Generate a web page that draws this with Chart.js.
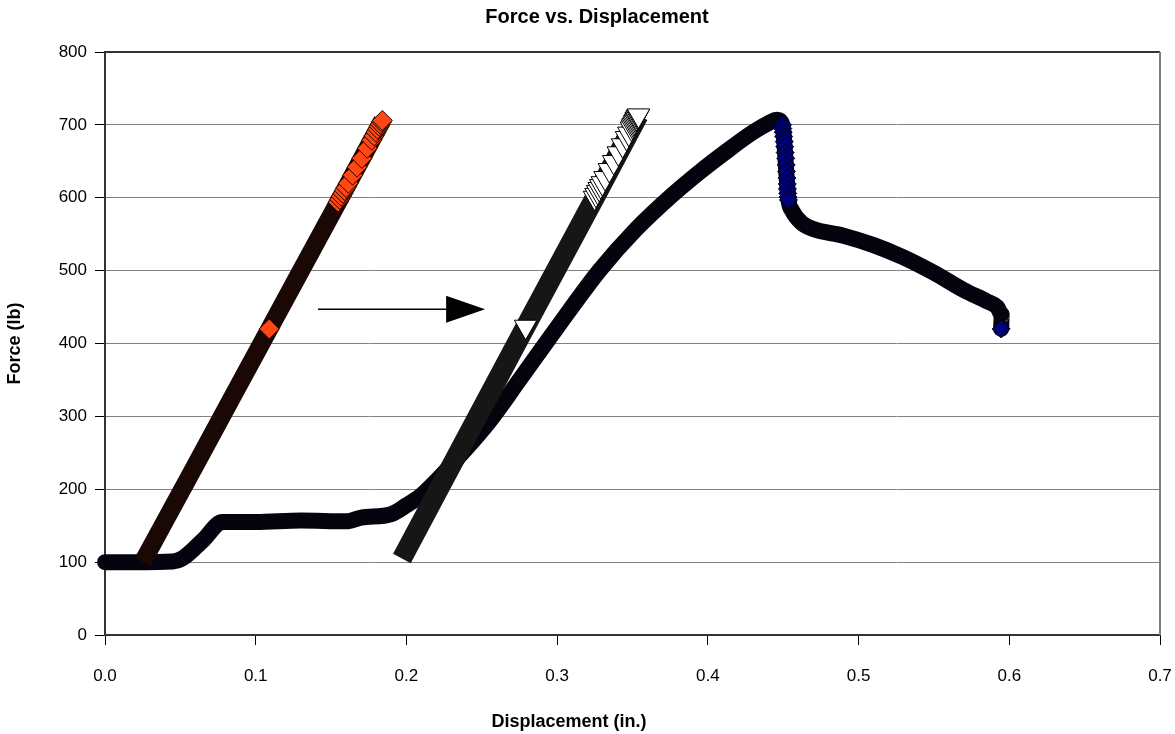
<!DOCTYPE html>
<html>
<head>
<meta charset="utf-8">
<title>Force vs. Displacement</title>
<script src="https://cdn.jsdelivr.net/npm/chart.js@4.4.1/dist/chart.umd.min.js"></script>
<style>
  html, body { margin: 0; padding: 0; background: #fff; }
  #wrap { width: 1175px; height: 734px; position: relative; }
</style>
</head>
<body>
<div id="wrap"><canvas id="forceChart"></canvas></div>
<script>
// main test (blue diamonds) - traced along the middle of the thick band
const testX = [0.000, 0.020, 0.045, 0.052, 0.065, 0.078, 0.100, 0.130, 0.160, 0.170, 0.190, 0.200, 0.210, 0.220, 0.235, 0.255, 0.275, 0.300, 0.328, 0.352, 0.376, 0.395, 0.410, 0.430, 0.440, 0.446, 0.4495, 0.4535, 0.456, 0.462, 0.470, 0.490, 0.510, 0.530, 0.550, 0.570, 0.585, 0.592, 0.595, 0.5946];
const testY = [100, 100, 101, 106, 130, 155, 155, 157, 156, 161, 166, 178, 192, 212, 245, 293, 350, 422, 500, 556, 603, 636, 660, 690, 702, 707, 700, 597, 582, 566, 557, 548, 535, 518, 497, 473, 458, 450, 440, 420];
// diamonds that show up on their own (steep drop + last reading)
const testMarkX = [0.4495, 0.4497, 0.4500, 0.4503, 0.4507, 0.4510, 0.4513, 0.4517, 0.4520, 0.4522, 0.4525, 0.4527, 0.4528, 0.4530, 0.4532, 0.4535, 0.5946];
const testMarkY = [700, 695, 690, 684, 677, 670, 662, 654, 645, 636, 627, 619, 612, 606, 601, 597, 420];

// first elastic loading line (orange diamonds)
const loadAX = [0.025, 0.060, 0.109, 0.150, 0.184];
const loadAY = [100, 233, 420, 576, 706];
const loadAMarkX = [0.1090, 0.1546, 0.1557, 0.1567, 0.1578, 0.1588, 0.1599, 0.1614, 0.1643, 0.1672, 0.1704, 0.1740, 0.1769, 0.1785, 0.1798, 0.1809, 0.1819, 0.1827, 0.1835, 0.1840];
const loadAMarkY = [420, 594, 598, 602, 606, 610, 614, 620, 631, 642, 654, 668, 679, 685, 690, 694, 698, 701, 704, 706];

// shifted elastic line (white triangles)
const loadBX = [0.197, 0.279, 0.325, 0.354];
const loadBY = [105, 423, 600, 713];
const loadBMarkX = [0.2791, 0.3248, 0.3258, 0.3269, 0.3279, 0.3289, 0.3300, 0.3318, 0.3346, 0.3375, 0.3406, 0.3434, 0.3460, 0.3475, 0.3493, 0.3500, 0.3506, 0.3511, 0.3516, 0.3521, 0.3525, 0.3529, 0.3533, 0.3537, 0.3540];
const loadBMarkY = [423, 600, 604, 608, 612, 616, 620, 627, 638, 649, 661, 672, 682, 688, 695, 698, 700, 702, 704, 706, 708, 709, 711, 712, 713];

// arrow between the two elastic lines
const arrowX = [0.1413, 0.2522];
const arrowY = [447, 447];

const xTicks = [0, 0.1, 0.2, 0.3, 0.4, 0.5, 0.6, 0.7];
const yTicks = [0, 100, 200, 300, 400, 500, 600, 700, 800];

const pts = (xs, ys) => xs.map((x, i) => ({ x: x, y: ys[i] }));
const FONT = '"Liberation Sans", Arial, sans-serif';

function band(data, color, width, cap, order) {
  return {
    data: data, showLine: true, borderColor: color, borderWidth: width,
    borderJoinStyle: 'round', borderCapStyle: cap, pointRadius: 0,
    cubicInterpolationMode: 'monotone', clip: false, order: order
  };
}
function marks(data, style, radius, fill, edge, rot, order) {
  return {
    data: data, showLine: false, pointStyle: style, pointRadius: radius,
    pointRotation: rot, pointBackgroundColor: fill, pointBorderColor: edge,
    pointBorderWidth: 1, clip: false, order: order
  };
}

const framePlugin = {
  id: 'frame',
  beforeDatasetsDraw(chart) {
    const { ctx, chartArea: a } = chart;
    ctx.save();
    ctx.lineWidth = 2;
    ctx.strokeStyle = '#333';
    ctx.beginPath(); ctx.moveTo(a.left, a.top); ctx.lineTo(a.right, a.top); ctx.stroke();
    ctx.strokeStyle = '#808080';
    ctx.beginPath(); ctx.moveTo(a.right, a.top); ctx.lineTo(a.right, a.bottom); ctx.stroke();
    ctx.restore();
  }
};

const textPlugin = {
  id: 'texts',
  afterDraw(chart) {
    const { ctx, scales } = chart;
    ctx.save();
    ctx.fillStyle = '#000';
    ctx.textAlign = 'center';
    ctx.textBaseline = 'middle';
    ctx.font = 'bold 20px ' + FONT;
    ctx.fillText('Force vs. Displacement', 597, 17);
    ctx.font = 'bold 18px ' + FONT;
    ctx.fillText('Displacement (in.)', 569, 722);

    // arrow
    const x0 = scales.x.getPixelForValue(arrowX[0]);
    const x1 = scales.x.getPixelForValue(arrowX[1]);
    const y0 = scales.y.getPixelForValue(arrowY[0]);
    const head = 39;
    ctx.strokeStyle = '#000';
    ctx.lineWidth = 1.5;
    ctx.beginPath(); ctx.moveTo(x0, y0); ctx.lineTo(x1 - head, y0); ctx.stroke();
    ctx.beginPath();
    ctx.moveTo(x1, y0);
    ctx.lineTo(x1 - head, y0 - 13.5);
    ctx.lineTo(x1 - head, y0 + 13.5);
    ctx.closePath();
    ctx.fill();
    ctx.restore();
  }
};

new Chart(document.getElementById('forceChart'), {
  type: 'scatter',
  data: {
    datasets: [
      marks(pts(loadBMarkX, loadBMarkY), 'triangle', 13, '#ffffff', '#000000', 180, 1),
      band(pts(loadBX, loadBY), '#161616', 20, 'butt', 2),
      marks(pts(loadAMarkX, loadAMarkY), 'rectRot', 10, '#ff4614', '#1e0600', 0, 3),
      band(pts(loadAX, loadAY), '#1a0805', 18, 'butt', 4),
      marks(pts(testMarkX, testMarkY), 'rectRot', 9, '#00007a', '#000010', 0, 5),
      band(pts(testX, testY), '#04040f', 16, 'round', 6)
    ]
  },
  options: {
    responsive: true,
    maintainAspectRatio: false,
    animation: false,
    events: [],
    layout: { padding: { top: 52, right: 15, left: 0, bottom: 0 } },
    plugins: { legend: { display: false }, tooltip: { enabled: false } },
    scales: {
      x: {
        type: 'linear', min: 0, max: 0.7,
        afterBuildTicks: s => { s.ticks = xTicks.map(v => ({ value: v })); },
        afterFit: s => { s.height = 99; s.paddingLeft = 0; s.paddingRight = 0; },
        ticks: { color: '#000', padding: 21, font: { family: FONT, size: 17 }, callback: v => v.toFixed(1) },
        grid: { drawOnChartArea: false, drawTicks: true, tickLength: 10, tickColor: '#000' },
        border: { color: '#333', width: 2 }
      },
      y: {
        min: 0, max: 800,
        afterBuildTicks: s => { s.ticks = yTicks.map(v => ({ value: v })); },
        afterFit: s => { s.width = 105; s.paddingTop = 0; s.paddingBottom = 0; },
        ticks: { color: '#000', padding: 8, font: { family: FONT, size: 17 } },
        grid: { color: '#808080', lineWidth: 1, tickLength: 10, tickColor: '#000' },
        border: { color: '#333', width: 2 },
        title: { display: true, text: 'Force (lb)', color: '#000', padding: { top: 4, bottom: 0 }, font: { family: FONT, size: 18, weight: 'bold' } }
      }
    }
  },
  plugins: [framePlugin, textPlugin]
});
</script>
</body>
</html>
